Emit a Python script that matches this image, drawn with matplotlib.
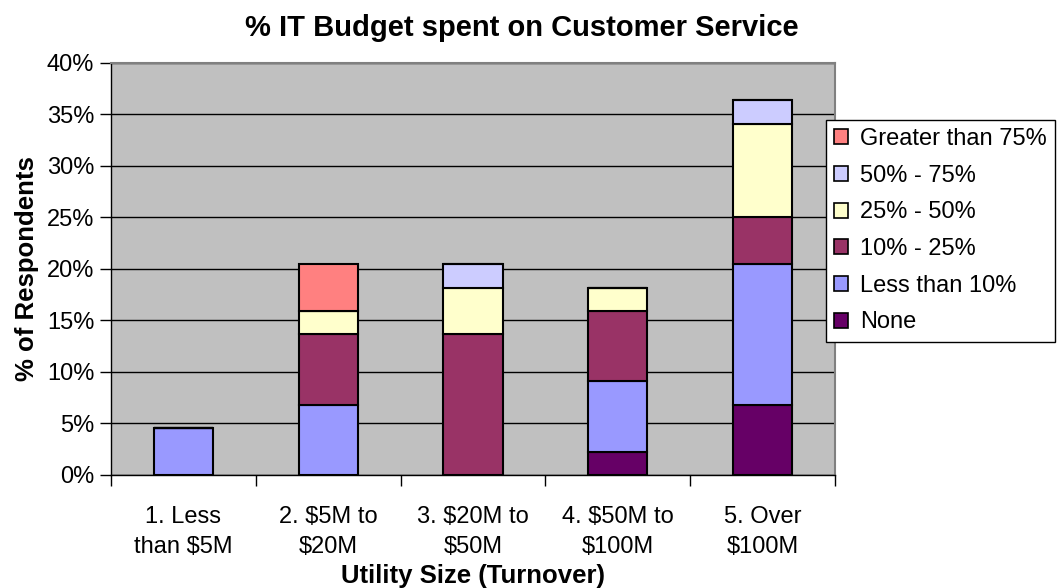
import numpy as np
import matplotlib
matplotlib.use("Agg")
import matplotlib.pyplot as plt
from matplotlib.ticker import FuncFormatter, FixedLocator, NullFormatter

plt.rcParams['font.family'] = ['Liberation Sans', 'DejaVu Sans']

# utility size groups and share of respondents (%) per IT budget band
sizes = ["1. Less\nthan $5M", "2. $5M to\n$20M", "3. $20M to\n$50M",
         "4. $50M to\n$100M", "5. Over\n$100M"]
bands = ["None", "Less than 10%", "10% - 25%", "25% - 50%", "50% - 75%",
         "Greater than 75%"]
none_pct = [0.0, 0.0, 0.0, 2.27, 6.82]
lt10_pct = [4.55, 6.82, 0.0, 6.82, 13.64]
p10_25 = [0.0, 6.82, 13.64, 6.82, 4.55]
p25_50 = [0.0, 2.27, 4.55, 2.27, 9.09]
p50_75 = [0.0, 0.0, 2.27, 0.0, 2.27]
gt75_pct = [0.0, 4.55, 0.0, 0.0, 0.0]
colours = ["#660066", "#9999FF", "#993366", "#FFFFCC", "#CCCCFF", "#FF8080"]

series = [none_pct, lt10_pct, p10_25, p25_50, p50_75, gt75_pct]

fig = plt.figure(figsize=(10.64, 5.88), dpi=100)
ax = fig.add_axes([0.1043, 0.1922, 0.6805, 0.7007])
ax.set_facecolor("#C0C0C0")

x = np.arange(len(sizes))
bottom = np.zeros(len(sizes))
handles = []
for vals, lab, col in zip(series, bands, colours):
    v = np.array(vals)
    h = ax.bar(x, v, width=0.41, bottom=bottom, color=col, edgecolor="black",
               linewidth=1.5, label=lab, zorder=3)
    handles.append(h)
    bottom += v

ax.set_xlim(-0.5, len(sizes) - 0.5)
ax.set_ylim(0, 40)
ax.set_yticks(np.arange(0, 41, 5))
ax.yaxis.set_major_formatter(FuncFormatter(lambda v, p: f"{v:.0f}%"))
ax.grid(axis="y", color="black", linewidth=1, zorder=1)
ax.set_axisbelow(True)

# category labels centred, tick marks on the boundaries
ax.xaxis.set_major_locator(FixedLocator(np.arange(-0.5, len(sizes), 1.0)))
ax.xaxis.set_major_formatter(NullFormatter())
ax.xaxis.set_minor_locator(FixedLocator(x))
ax.set_xticklabels(sizes, minor=True, linespacing=1.5)
ax.tick_params(axis="x", which="minor", length=0, pad=22, labelsize=17)
ax.tick_params(axis="x", which="major", length=8, width=1, direction="out")
ax.tick_params(axis="y", length=8, width=1, direction="out", labelsize=17, pad=4)

for s in ["top", "right"]:
    ax.spines[s].set_color("#808080")
    ax.spines[s].set_linewidth(1.5)
for s in ["left", "bottom"]:
    ax.spines[s].set_color("black")
    ax.spines[s].set_linewidth(1)

ax.set_xlabel("Utility Size (Turnover)", fontsize=18.5, fontweight="bold", labelpad=4)
ax.set_ylabel("% of Respondents", fontsize=18.5, fontweight="bold", labelpad=6)
fig.text(0.49, 1 - 28 / 588, "% IT Budget spent on Customer Service",
         fontsize=21, fontweight="bold", ha="center", va="center")

leg = fig.legend(handles[::-1], bands[::-1], loc="upper left",
                 bbox_to_anchor=(0.776, 0.796), fontsize=17, frameon=True,
                 fancybox=False, borderpad=0.35, labelspacing=0.62,
                 handlelength=0.6, handleheight=0.6, handletextpad=0.5,
                 borderaxespad=0)
leg.get_frame().set_edgecolor("black")
leg.get_frame().set_linewidth(1)
leg.get_frame().set_alpha(1)
for p in leg.get_patches():
    p.set_linewidth(1.2)

fig.savefig("out.png", dpi=100)
